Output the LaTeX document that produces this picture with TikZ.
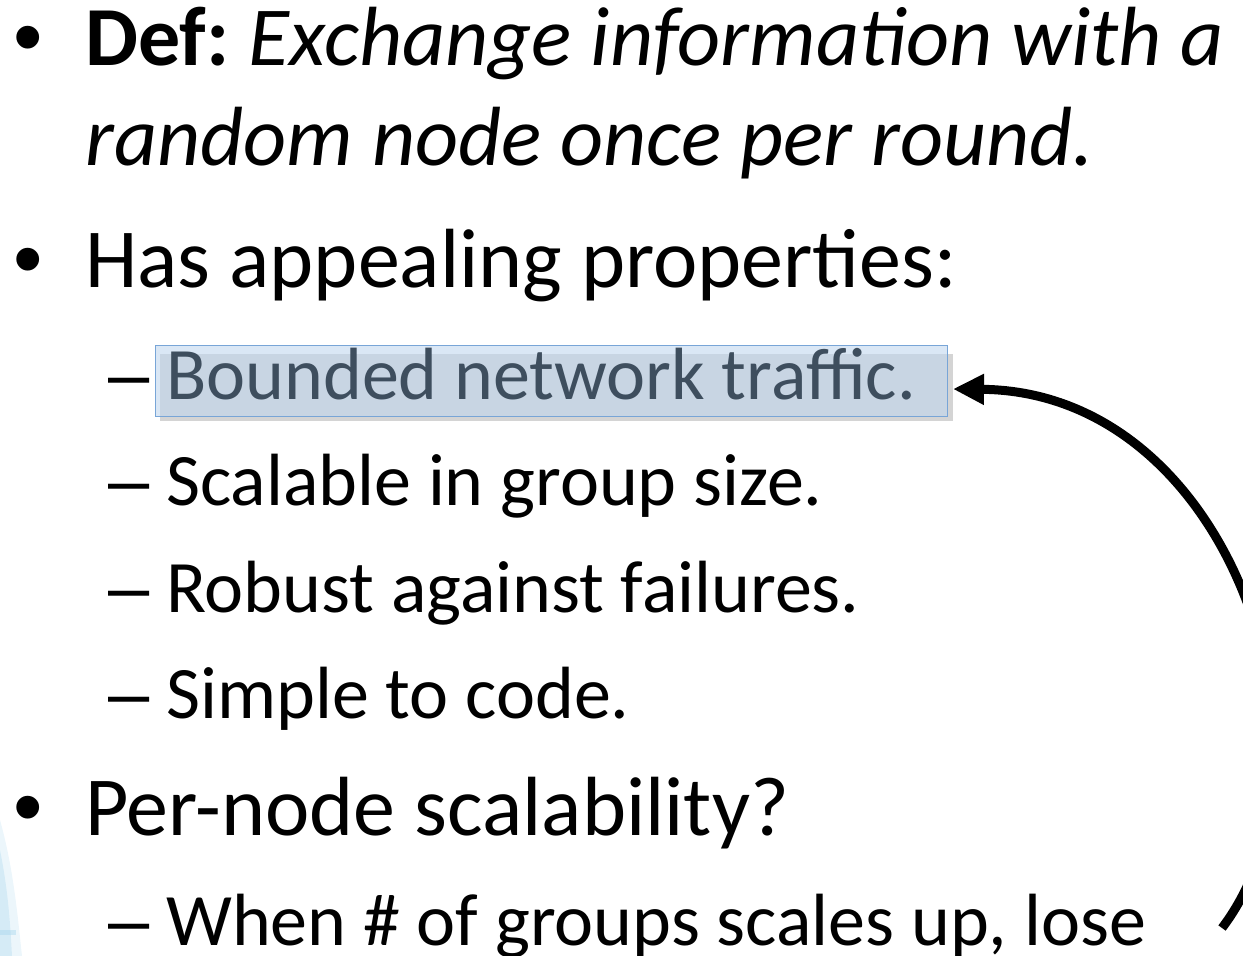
\documentclass[tikz,border=0pt]{standalone}
\usepackage{fontspec}
\setmainfont{Carlito}
\newfontfamily\arialfont{Liberation Sans}
\usetikzlibrary{arrows.meta}
\definecolor{hlfill}{RGB}{193,215,238}
\definecolor{hlborder}{RGB}{120,165,215}
\definecolor{hlshadow}{RGB}{212,212,212}
\definecolor{hltext}{RGB}{62,78,94}
\definecolor{decoblue}{RGB}{160,210,235}
\begin{document}
\begin{tikzpicture}[x=1pt,y=-1pt,
  lvlone/.style={anchor=base west, inner sep=0pt, font=\fontsize{84}{100}\selectfont},
  lvltwo/.style={anchor=base west, inner sep=0pt, font=\fontsize{74}{89}\selectfont},
  bulletmark/.style={anchor=base west, inner sep=0pt, font=\arialfont\fontsize{84}{100}\selectfont},
  dashmark/.style={anchor=base west, inner sep=0pt, font=\arialfont\fontsize{74}{89}\selectfont},
  bigarrow/.style={line width=9pt, line cap=butt, -{Triangle[length=31pt,width=29pt]}}
]
\useasboundingbox (0,0) rectangle (1243,956);
% faint background decoration
\fill[decoblue, opacity=0.2] (0,820) .. controls (14,870) and (18,920) .. (22,956) -- (0,956) -- cycle;
\fill[decoblue, opacity=0.3] (0,850) .. controls (8,890) and (10,920) .. (12,956) -- (0,956) -- cycle;
\fill[decoblue, opacity=0.4] (0,930) rectangle (16,935);
% level one bullets
\node[bulletmark] (b1) at (13,65) {•};
\node[bulletmark] (b2) at (13,287) {•};
\node[bulletmark] (b3) at (13,835) {•};
% text
\node[lvlone] (t1) at (85,65) {\textbf{Def:}~\textit{Exchange information with a}};
\node[lvlone] (t2) at (85,165) {\textit{random node once per round.}};
\node[lvlone] (t3) at (85,287) {Has appealing properties:};
% highlight box
\fill[hlshadow] (160,354) rectangle (953,421);
\filldraw[fill=hlfill, fill opacity=0.6, draw=hlborder, line width=1pt] (155,345) rectangle (947,416);
\node[dashmark] (d1) at (108,399) {–};
\node[lvltwo, text=hltext] (s1) at (166,399) {Bounded network traffic.};
\node[dashmark] (d2) at (108,505) {–};
\node[lvltwo] (s2) at (166,505) {Scalable in group size.};
\node[dashmark] (d3) at (108,612) {–};
\node[lvltwo] (s3) at (166,612) {Robust against failures.};
\node[dashmark] (d4) at (108,718) {–};
\node[lvltwo] (s4) at (166,718) {Simple to code.};
\node[lvlone] (t4) at (85,835) {Per-node scalability?};
\node[dashmark] (d5) at (108,945) {–};
\node[lvltwo] (s5) at (166,945) {When \# of groups scales up, lose};
% curved arrow
\coordinate (tail) at (1222,928);
\coordinate (tip) at (953,389);
\draw[bigarrow] (tail) .. controls (1350,760) and (1235,392) .. (tip);
\end{tikzpicture}
\end{document}
